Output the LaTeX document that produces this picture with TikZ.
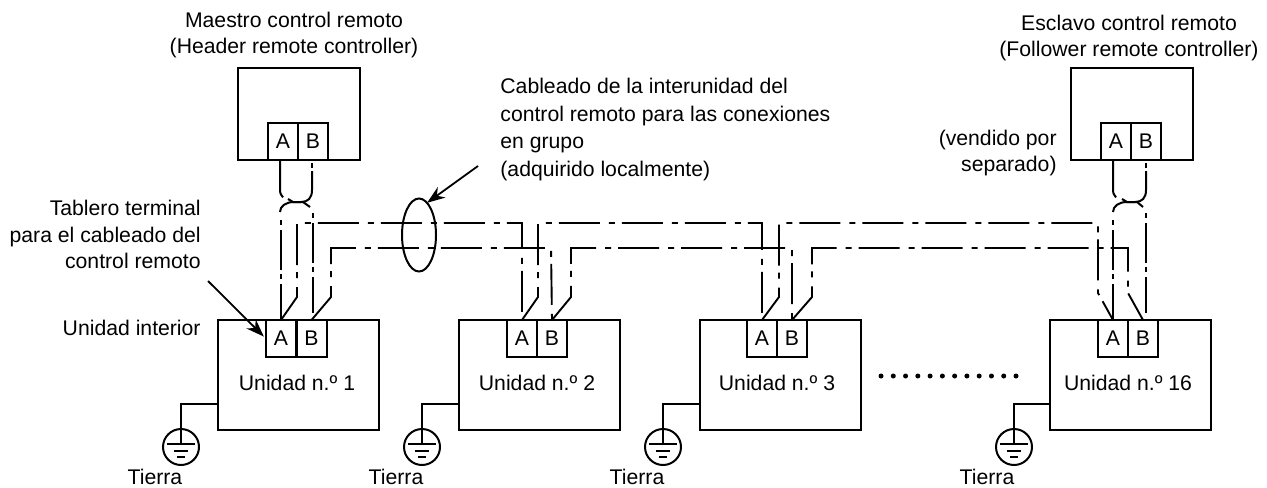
\documentclass[tikz,border=0pt]{standalone}
\usepackage{fontspec}
\setmainfont{Liberation Sans}
\usetikzlibrary{
    arrows.meta,
    shapes.geometric,
}

\begin{document}
\begin{tikzpicture}[
    x=0.5pt, y=-0.5pt,
    every node/.style={font=\fontsize{10.6}{13.4}\selectfont},
    wire/.style={line width=1pt},
    bus/.style={line width=0.95pt, dash pattern=on 20.5pt off 4.5pt on 3pt off 3.5pt},
    busphase/.style={bus, dash phase=1.5pt},
    riser/.style={line width=0.95pt, dash pattern=on 20pt off 2pt on 2.5pt off 2.5pt, dash phase=20pt},
    ctrlbox/.style={draw, line width=1pt, outer sep=0pt, minimum width=61pt, minimum height=46pt, anchor=north west},
    unitbox/.style={draw, line width=1pt, outer sep=0pt, minimum width=80.5pt, minimum height=55pt, anchor=north west},
    terminal/.style={draw, line width=1pt, outer sep=0pt, inner sep=0pt, minimum width=15pt, minimum height=18.7pt, anchor=north west},
    earth/.style={draw, circle, line width=1pt, outer sep=0pt, inner sep=0pt, minimum size=18pt},
    caption/.style={align=center, inner sep=0pt},
    pointer/.style={line width=0.9pt, -{Stealth[length=9pt, width=6.5pt]}},
]

\useasboundingbox (0,0) rectangle (1267,487);

% REMOTE CONTROLLERS
\node[ctrlbox] at (238,68) (header) {};
\node[terminal] at (268,123) (headerA) {A};
\node[terminal] at (298,123) (headerB) {B};
\node[ctrlbox] at (1071,68) (follower) {};
\node[terminal] at (1101,123) (followerA) {A};
\node[terminal] at (1131,123) (followerB) {B};

% UNITS
\node[unitbox] at (218,320) (unit1) {};
\node[terminal] at (266,320) (unit1A) {A};
\node[terminal] at (296.5,320) (unit1B) {B};
\node[unitbox] at (459,320) (unit2) {};
\node[terminal] at (507,320) (unit2A) {A};
\node[terminal] at (537,320) (unit2B) {B};
\node[unitbox] at (700,320) (unit3) {};
\node[terminal] at (747,320) (unit3A) {A};
\node[terminal] at (777,320) (unit3B) {B};
\node[unitbox] at (1050,320) (unit16) {};
\node[terminal] at (1098,320) (unit16A) {A};
\node[terminal] at (1128,320) (unit16B) {B};

% UNIT LABELS
\node at (297,383) (name1) {Unidad n.º 1};
\node at (537,383) (name2) {Unidad n.º 2};
\node at (777,383) (name3) {Unidad n.º 3};
\node at (1128,383) (name16) {Unidad n.º 16};

% BUS LINES
\draw[busphase] (unit1A.north) -- (297,297) -- (297,223) -- (522,223) -- (unit2A.north);
\draw[bus] (unit1B.north) -- (331,297) -- (331,248) -- (551,248) -- (unit2B.north);
\draw[busphase] (unit2A.north) -- (538,297) -- (538,223) -- (762,223) -- (unit3A.north);
\draw[bus] (unit2B.north) -- (571,297) -- (571,248) -- (792,248) -- (unit3B.north);
\draw[busphase] (unit3A.north) -- (779,297) -- (779,223) -- (1098,223) -- (1098,293) -- (unit16A.north);
\draw[bus] (unit3B.north) -- (812,297) -- (812,248) -- (1128,248) -- (1128,293) -- (unit16B.north);

% CROSSOVER LEFT
\draw[wire] (headerA.south) ++(-3,0) -- ++(0,30) .. controls +(0,4) and +(-1,-2) .. ++(3,7);
\draw[wire] (headerB.south) ++(-1,3) -- ++(0,5);
\draw[wire] (312,171) -- (312,190) .. controls (312,198) and (308,202) .. (301,202) -- (293,202) -- (288,199);
\draw[wire] (280,212) .. controls (280,206) and (286,202) .. (294,202) -- (303,202) -- (310,207);
\draw[riser] (281,216) -- (unit1A.north);
\draw[riser] (313,209) -- (313,313);

% CROSSOVER RIGHT
\draw[wire] (followerA.south) ++(-3,0) -- ++(0,30) .. controls +(0,4) and +(-1,-2) .. ++(3,7);
\draw[wire] (followerB.south) ++(0,3) -- ++(0,5);
\draw[wire] (1146,171) -- (1146,190) .. controls (1146,198) and (1142,202) .. (1135,202) -- (1127,202) -- (1122,199);
\draw[wire] (1113,212) .. controls (1113,206) and (1119,202) .. (1127,202) -- (1137,202) -- (1143,207);
\draw[riser] (1113,216) -- (unit16A.north);
\draw[riser] (1146,209) -- (1146,313);

% GROUPING RING
\node[draw, ellipse, line width=1pt, outer sep=0pt, inner sep=0pt, minimum width=17pt, minimum height=36.5pt] at (419,235) (ring) {};

% GROUNDS
\node[earth] at (181,447) (gnd1) {};
\draw[wire] (unit1.west |- 0,404) -- (181,404) -- (181,444);
\draw[wire] (167,444) -- (195,444) (174,451) -- (188,451) (177,457) -- (185,457);
\node[earth] at (422,447) (gnd2) {};
\draw[wire] (unit2.west |- 0,404) -- (422,404) -- (422,444);
\draw[wire] (408,444) -- (436,444) (415,451) -- (429,451) (418,457) -- (426,457);
\node[earth] at (663,447) (gnd3) {};
\draw[wire] (unit3.west |- 0,404) -- (663,404) -- (663,444);
\draw[wire] (649,444) -- (677,444) (656,451) -- (670,451) (659,457) -- (667,457);
\node[earth] at (1014,447) (gnd4) {};
\draw[wire] (unit16.west |- 0,404) -- (1014,404) -- (1014,444);
\draw[wire] (1000,444) -- (1028,444) (1007,451) -- (1021,451) (1010,457) -- (1018,457);
\node at (155,477) (earth1) {Tierra};
\node at (396,477) (earth2) {Tierra};
\node at (637,477) (earth3) {Tierra};
\node at (987,477) (earth4) {Tierra};

% DOTS
\draw[line width=2.5pt, line cap=round, dash pattern=on 0pt off 6.136pt] (881,376) -- (1018,376);

% TEXTS
\node[caption] at (294,35) (headertext) {Maestro control remoto\\(Header remote controller)};
\node[caption] at (1129,38) (followertext) {Esclavo control remoto\\(Follower remote controller)};
\node[caption, anchor=north west, align=left, font=\fontsize{10.6}{13.8}\selectfont] at (500,78) (cabletext) {Cableado de la interunidad del\\control remoto para las conexiones\\en grupo\\(adquirido localmente)};
\node[caption, anchor=east, align=right] at (1057,153) (soldtext) {(vendido por\\separado)};
\node[caption, anchor=east, align=right] at (201,234.5) (boardtext) {Tablero terminal\\para el cableado del\\control remoto};
\node[caption, anchor=east] at (201,328) (unittext) {Unidad interior};

% POINTERS
\coordinate (ringfrom) at (478,166);
\coordinate (boardfrom) at (208,281);
\draw[pointer] (ringfrom) -- (ring.76);
\draw[pointer, shorten >=1.5pt] (boardfrom) -- (unit1A.west);

\end{tikzpicture}
\end{document}
